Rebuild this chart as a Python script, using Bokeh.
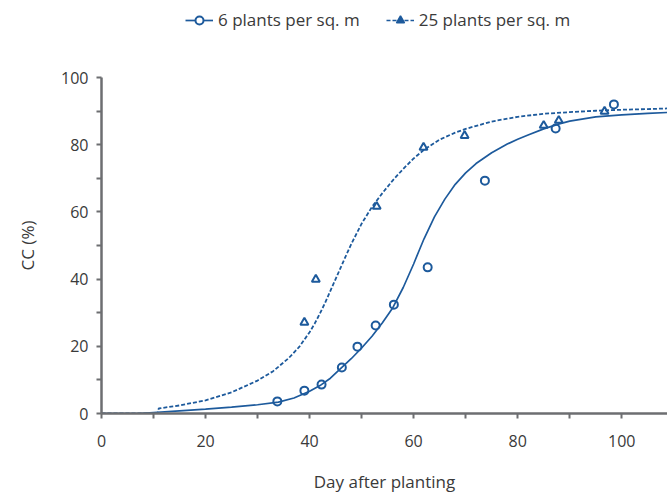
from bokeh.plotting import figure
from bokeh.models import Range1d, FixedTicker, Legend, LegendItem
from bokeh.layouts import column
from bokeh.embed import file_html
from bokeh.resources import INLINE

# observed data
obs6_day = [33.8, 39.0, 42.3, 46.2, 49.2, 52.7, 56.2, 62.7, 73.7, 87.3, 98.5]
obs6_cc = [3.6, 6.8, 8.6, 13.7, 19.9, 26.2, 32.4, 43.5, 69.3, 84.8, 92.0]
obs25_day = [39.0, 41.2, 52.9, 61.9, 69.8, 85.0, 87.9, 96.7]
obs25_cc = [27.1, 39.9, 61.6, 79.2, 82.7, 85.7, 87.2, 89.9]

# fitted curves
fit6_day = [0, 7, 10, 15, 20, 25, 30, 34, 37, 40, 42, 44, 46, 48, 50, 52, 54, 56, 58, 59,
            60, 61, 62, 64, 66, 68, 70, 72, 75, 78, 80, 82, 85, 88, 90, 95, 100, 105, 109]
fit6_cc = [0, 0, 0.3, 0.8, 1.3, 1.9, 2.6, 3.4, 4.6, 6.6, 8.3, 10.5, 13.4, 16.3, 19.5, 23, 27,
           31.5, 37.5, 41, 44.5, 48.3, 52, 58.5, 63.8, 68.2, 71.6, 74.4, 77.6, 80.2, 81.6,
           82.9, 84.7, 86.2, 87, 88.3, 88.9, 89.3, 89.6]
fit25_day = [0, 10.8, 11, 15, 20, 25, 30, 33, 36, 38, 40, 41, 42, 43, 44, 45, 46, 47, 48, 50,
             52, 54, 56, 58, 60, 62, 65, 68, 70, 75, 80, 85, 90, 95, 100, 105, 109]
fit25_cc = [0, 0, 1.5, 2.4, 3.9, 6.3, 9.8, 12.6, 16.5, 19.8, 24.2, 26.8, 29.8, 33, 36.5, 40,
            43.5, 47, 50.4, 56.5, 61.5, 65.6, 69.4, 72.8, 75.9, 78.5, 81.5, 83.6, 84.7, 86.9,
            88.3, 89.2, 89.7, 90.1, 90.4, 90.6, 90.8]

x_major = [0, 20, 40, 60, 80, 100]
x_minor = [10, 30, 50, 70, 90]
y_major = [0, 20, 40, 60, 80, 100]
y_minor = [10, 30, 50, 70, 90]

labels = ["6 plants per sq. m", "25 plants per sq. m"]

BLUE = "#1d5a9c"
GREY = "#6d6e71"
TXT = "#3a3a3a"
FONT = "Open Sans"
DASH = "4 2"

p = figure(width=667, height=456, output_backend="svg", toolbar_location=None,
           x_range=Range1d(0, 108.8), y_range=Range1d(0, 100),
           min_border_left=101, min_border_right=0, min_border_top=37, min_border_bottom=83)
p.outline_line_color = None
p.xgrid.visible = False
p.ygrid.visible = False

p.line(fit6_day, fit6_cc, line_color=BLUE, line_width=1.7)
p.line(fit25_day, fit25_cc, line_color=BLUE, line_width=1.8, line_dash=DASH)
p.scatter(obs6_day, obs6_cc, marker="circle", size=8, fill_color=None,
          line_color=BLUE, line_width=2)
p.scatter(obs25_day, obs25_cc, marker="triangle", size=8, fill_color=None,
          line_color=BLUE, line_width=2)

for ax in (p.xaxis[0], p.yaxis[0]):
    ax.axis_line_color = GREY
    ax.axis_line_width = 2.5
    ax.major_tick_line_color = GREY
    ax.minor_tick_line_color = GREY
    ax.major_tick_line_width = 2
    ax.minor_tick_line_width = 2
    ax.major_tick_in = 0
    ax.major_tick_out = 5
    ax.minor_tick_in = 0
    ax.minor_tick_out = 5
    ax.major_label_text_font = FONT
    ax.major_label_text_font_size = "16px"
    ax.major_label_text_color = TXT
    ax.axis_label_text_font = FONT
    ax.axis_label_text_font_size = "17px"
    ax.axis_label_text_font_style = "normal"
    ax.axis_label_text_color = TXT

p.xaxis.ticker = FixedTicker(ticks=x_major, minor_ticks=x_minor)
p.yaxis.ticker = FixedTicker(ticks=y_major, minor_ticks=y_minor)
p.xaxis.axis_label = "Day after planting"
p.yaxis.axis_label = "CC (%)"
p.xaxis.major_label_standoff = 16
p.yaxis.major_label_standoff = 8
p.xaxis.axis_label_standoff = 20
p.yaxis.axis_label_standoff = 19

# legend strip above the chart (its frame is aligned with the chart's frame)
lg = figure(width=667, height=40, output_backend="svg", toolbar_location=None,
            x_range=Range1d(0, 1), y_range=Range1d(0, 1),
            x_axis_location=None, y_axis_location=None,
            min_border_left=0, min_border_right=0, min_border_top=0, min_border_bottom=0)
lg.outline_line_color = None
lg.xgrid.visible = False
lg.ygrid.visible = False
# proxy renderers placed outside the visible range, used only for legend glyphs
ll6 = lg.line([5, 6], [5, 6], line_color=BLUE, line_width=1.7)
ls6 = lg.scatter([5], [5], marker="circle", size=8, fill_color="white", line_color=BLUE,
                 line_width=2)
ll25 = lg.line([5, 6], [5, 6], line_color=BLUE, line_width=1.7, line_dash=DASH)
ls25 = lg.scatter([5], [5], marker="triangle", size=8, fill_color=BLUE, line_color=BLUE,
                  line_width=1.5)

legend = Legend(items=[
    LegendItem(label=labels[0], renderers=[ll6, ls6]),
    LegendItem(label=labels[1], renderers=[ll25, ls25]),
], orientation="horizontal", location=(84, 9))
legend.border_line_color = None
legend.background_fill_alpha = 0
legend.label_text_font = FONT
legend.label_text_font_size = "17px"
legend.label_text_color = TXT
legend.glyph_width = 28
legend.label_standoff = 5
legend.spacing = 26
legend.padding = 0
legend.margin = 0
lg.add_layout(legend)

layout = column(lg, p, spacing=0)
open("out.html", "w").write(file_html(layout, INLINE))
